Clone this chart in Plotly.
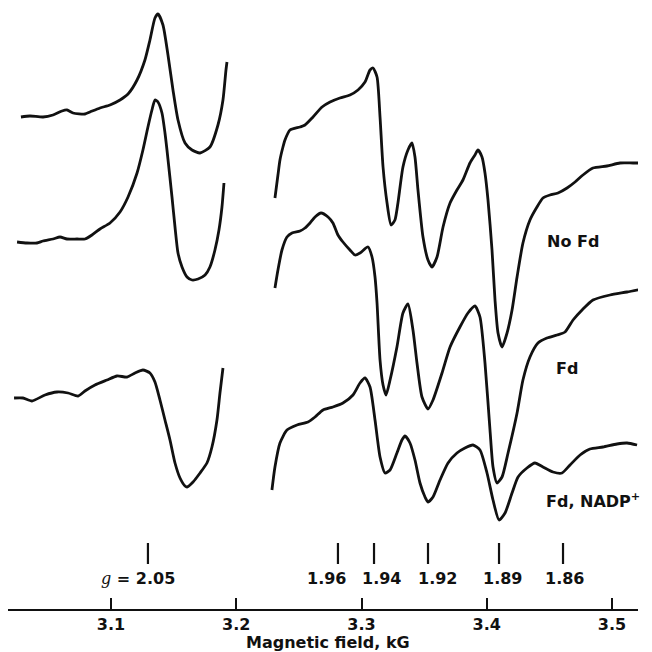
import plotly.graph_objects as go

# ---- data: magnetic field (kG) and derivative signal (arb. units, stacked) ----
nofd_low_field = [3.0281, 3.0353, 3.0457, 3.0537, 3.0609, 3.0649, 3.0697, 3.0792, 3.0832, 3.0912,
                  3.0992, 3.1072, 3.1136, 3.1208, 3.1271, 3.1311, 3.1351, 3.1375, 3.1415, 3.1455,
                  3.1495, 3.1535, 3.1591, 3.1647, 3.1711, 3.1790, 3.1854, 3.1894, 3.1918, 3.1926]
nofd_low_signal = [492, 493, 492, 494, 498, 499, 496, 495, 497, 501,
                   504, 509, 515, 529, 549, 569, 591, 595, 584, 554,
                   519, 489, 466, 459, 456, 462, 484, 509, 539, 547]

nofd_high_field = [3.2309, 3.2333, 3.2349, 3.2373, 3.2389, 3.2429, 3.2509, 3.2549, 3.2613, 3.2685,
                   3.2749, 3.2828, 3.2908, 3.2972, 3.3028, 3.3068, 3.3092, 3.3124, 3.3148, 3.3172,
                   3.3204, 3.3236, 3.3267, 3.3291, 3.3331, 3.3371, 3.3403, 3.3427, 3.3451, 3.3491,
                   3.3531, 3.3563, 3.3603, 3.3651, 3.3707, 3.3762, 3.3810, 3.3866, 3.3906, 3.3930,
                   3.3962, 3.3986, 3.4010, 3.4042, 3.4066, 3.4090, 3.4122, 3.4162, 3.4202, 3.4242,
                   3.4289, 3.4345, 3.4401, 3.4449, 3.4505, 3.4569, 3.4641, 3.4705, 3.4768, 3.4848,
                   3.4960, 3.5064, 3.5168, 3.5248]
nofd_high_signal = [411, 434, 449, 462, 469, 479, 482, 484, 492, 502,
                    507, 511, 514, 519, 527, 539, 541, 532, 492, 442,
                    406, 384, 389, 406, 442, 459, 466, 452, 419, 372,
                    349, 342, 352, 382, 406, 419, 429, 446, 454, 459,
                    452, 436, 409, 359, 309, 276, 262, 276, 299, 332,
                    366, 389, 402, 411, 414, 416, 421, 427, 434, 441,
                    443, 446, 446, 446]

fd_low_field = [3.0250, 3.0329, 3.0409, 3.0457, 3.0537, 3.0593, 3.0649, 3.0729, 3.0792, 3.0848,
                3.0912, 3.0992, 3.1072, 3.1136, 3.1208, 3.1255, 3.1295, 3.1327, 3.1351, 3.1375,
                3.1407, 3.1431, 3.1447, 3.1471, 3.1487, 3.1511, 3.1535, 3.1567, 3.1607, 3.1647,
                3.1695, 3.1751, 3.1790, 3.1830, 3.1862, 3.1886, 3.1902]
fd_low_signal = [367, 366, 366, 368, 370, 372, 370, 370, 370, 374,
                 380, 386, 397, 412, 436, 459, 482, 499, 509, 507,
                 496, 476, 459, 431, 412, 382, 356, 342, 332, 329,
                 330, 334, 342, 359, 379, 402, 426]

fd_high_field = [3.2309, 3.2333, 3.2365, 3.2405, 3.2445, 3.2509, 3.2549, 3.2589, 3.2629, 3.2677,
                 3.2733, 3.2772, 3.2812, 3.2852, 3.2908, 3.2948, 3.2988, 3.3052, 3.3084, 3.3108,
                 3.3124, 3.3148, 3.3172, 3.3196, 3.3228, 3.3283, 3.3331, 3.3371, 3.3411, 3.3443,
                 3.3483, 3.3531, 3.3571, 3.3643, 3.3707, 3.3786, 3.3850, 3.3906, 3.3946, 3.3986,
                 3.4026, 3.4050, 3.4082, 3.4122, 3.4170, 3.4242, 3.4289, 3.4345, 3.4409, 3.4481,
                 3.4561, 3.4625, 3.4689, 3.4761, 3.4848, 3.4984, 3.5120, 3.5240]
fd_high_signal = [321, 339, 359, 372, 376, 378, 381, 386, 392, 396,
                  392, 386, 374, 367, 359, 354, 356, 362, 352, 332,
                  306, 249, 224, 214, 229, 262, 296, 305, 279, 246,
                  212, 200, 209, 236, 262, 282, 296, 303, 292, 246,
                  179, 142, 126, 132, 156, 196, 229, 252, 266, 271,
                  274, 277, 289, 299, 309, 314, 317, 320]

nadp_low_field = [3.0226, 3.0297, 3.0369, 3.0473, 3.0569, 3.0657, 3.0737, 3.0792, 3.0872, 3.0968,
                  3.1048, 3.1128, 3.1192, 3.1255, 3.1311, 3.1351, 3.1391, 3.1431, 3.1471, 3.1511,
                  3.1551, 3.1591, 3.1607, 3.1655, 3.1711, 3.1766, 3.1806, 3.1846, 3.1870, 3.1894]
nadp_low_signal = [211, 211, 208, 214, 217, 216, 213, 218, 224, 229,
                   233, 232, 236, 239, 236, 227, 209, 189, 169, 146,
                   131, 123, 122, 127, 136, 146, 162, 189, 216, 241]

nadp_high_field = [3.2285, 3.2309, 3.2349, 3.2405, 3.2485, 3.2573, 3.2629, 3.2693, 3.2772, 3.2852,
                   3.2932, 3.2988, 3.3028, 3.3068, 3.3108, 3.3148, 3.3188, 3.3228, 3.3283, 3.3323,
                   3.3347, 3.3387, 3.3427, 3.3467, 3.3507, 3.3531, 3.3571, 3.3627, 3.3691, 3.3762,
                   3.3826, 3.3890, 3.3946, 3.4002, 3.4050, 3.4098, 3.4146, 3.4202, 3.4250, 3.4321,
                   3.4385, 3.4449, 3.4529, 3.4601, 3.4665, 3.4745, 3.4824, 3.4928, 3.5040, 3.5120,
                   3.5200]
nadp_high_signal = [119, 142, 166, 179, 184, 187, 192, 199, 202, 206,
                    214, 226, 231, 222, 189, 152, 136, 139, 156, 169,
                    173, 166, 149, 126, 112, 107, 112, 129, 146, 156,
                    161, 164, 159, 136, 109, 89, 96, 116, 132, 141,
                    146, 142, 137, 136, 144, 154, 160, 162, 165, 166,
                    164]

g_values = ["2.05", "1.96", "1.94", "1.92", "1.89", "1.86"]
g_field = [3.1295, 3.2812, 3.3100, 3.3531, 3.4098, 3.4609]

tick_vals = [3.1, 3.2, 3.3, 3.4, 3.5]
tick_text = ["3.1", "3.2", "3.3", "3.4", "3.5"]

sample_labels = ["No Fd", "Fd", "Fd, NADP<sup>+</sup>"]
x_title = "Magnetic field, kG"

# ---- styling / layout ----
INK = "#111111"
FONT = "DejaVu Sans"
LW = 2.8

fig = go.Figure()

segments = [
    (nofd_low_field, nofd_low_signal), (nofd_high_field, nofd_high_signal),
    (fd_low_field, fd_low_signal), (fd_high_field, fd_high_signal),
    (nadp_low_field, nadp_low_signal), (nadp_high_field, nadp_high_signal),
]
for fx, sy in segments:
    fig.add_trace(go.Scatter(x=fx, y=sy, mode="lines",
                             line=dict(color=INK, width=LW, shape="spline", smoothing=0.6),
                             hoverinfo="skip", showlegend=False))

# g-value marker bars
gx, gy = [], []
for f in g_field:
    gx += [f, f, None]
    gy += [45, 66, None]
fig.add_trace(go.Scatter(x=gx, y=gy, mode="lines", line=dict(color=INK, width=2.2),
                         hoverinfo="skip", showlegend=False))

annotations = []
g_label_x = [3.1216, 3.2717, 3.3156, 3.3603, 3.4122, 3.4617]
for i, (gv, lx) in enumerate(zip(g_values, g_label_x)):
    txt = gv
    if i == 0:
        txt = ("<span style=\"font-family:'DejaVu Serif';font-style:italic;font-weight:normal\">g</span>"
               " = " + gv)
    annotations.append(dict(x=lx, y=31, xref="x", yref="y", text=txt, showarrow=False,
                            font=dict(family=FONT, size=16, color=INK, weight="bold")))

label_pos = [(3.4689, 368), (3.4641, 241), (3.4848, 109)]
for lab, (lx, ly) in zip(sample_labels, label_pos):
    annotations.append(dict(x=lx, y=ly, xref="x", yref="y", text=lab, showarrow=False,
                            font=dict(family=FONT, size=16, color=INK, weight="bold")))

annotations.append(dict(x=3.2733, y=-0.0558, xref="x", yref="paper", text=x_title,
                        showarrow=False, yanchor="middle",
                        font=dict(family=FONT, size=16, color=INK, weight="bold")))

fig.update_layout(
    width=652, height=652,
    margin=dict(l=8, r=14, t=0, b=43),
    paper_bgcolor="white", plot_bgcolor="white",
    annotations=annotations,
    xaxis=dict(range=[3.01777, 3.52076], showgrid=False, zeroline=False,
               showline=True, linecolor=INK, linewidth=1.6,
               ticks="inside", ticklen=11, tickwidth=2, tickcolor=INK,
               tickvals=tick_vals, ticktext=tick_text, ticklabelstandoff=0,
               tickfont=dict(family=FONT, size=16, color=INK, weight="bold")),
    yaxis=dict(range=[0, 609], visible=False, showgrid=False, zeroline=False),
)

fig.write_html(
    "out.html",
    config={"displayModeBar": False, "staticPlot": True},
    post_script="document.body.style.margin='0';document.body.style.overflow='hidden';",
)
